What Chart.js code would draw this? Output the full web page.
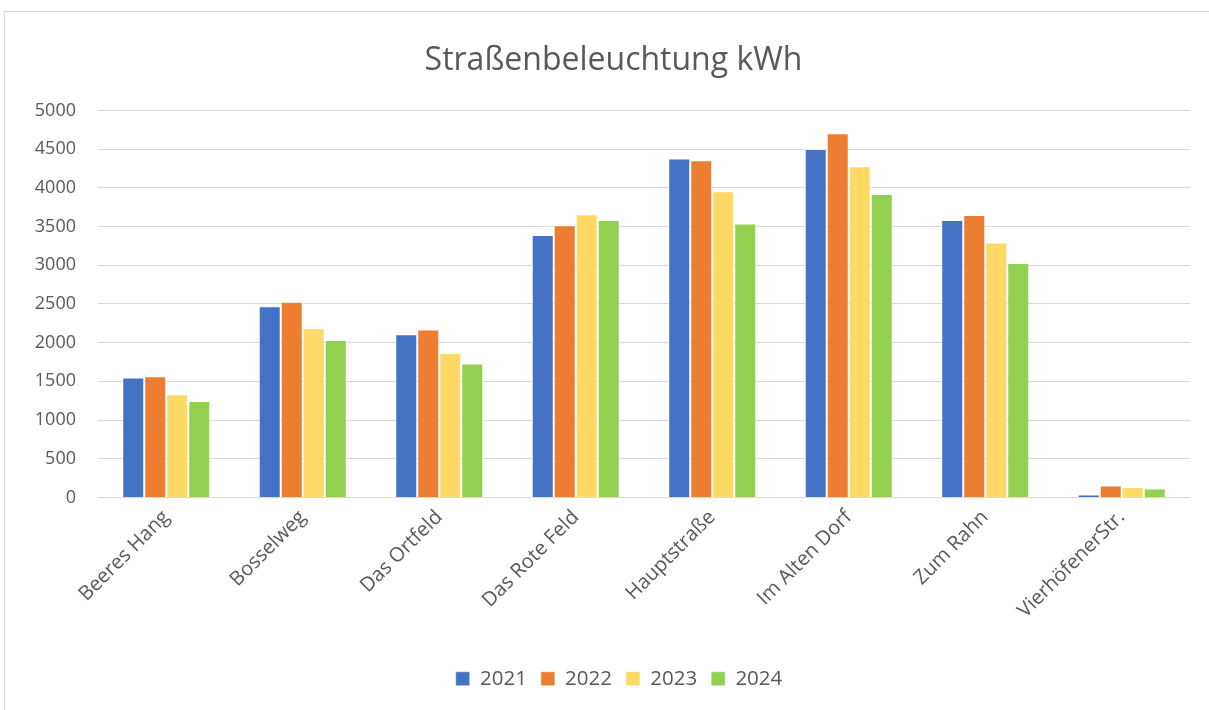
<!DOCTYPE html>
<html>
<head>
<meta charset="utf-8">
<script src="https://cdn.jsdelivr.net/npm/chart.js@4/dist/chart.umd.min.js"></script>
<style>
    html, body { margin: 0; padding: 0; background: #ffffff; overflow: hidden; }
    #frame {
        position: absolute; left: 4px; top: 11px; width: 1220px; height: 720px;
        border: 1px solid #d9d9d9; box-sizing: border-box;
    }
    #wrap { position: absolute; left: 0; top: 0; width: 1209px; height: 710px; }
</style>
</head>
<body>
<div id="frame"></div>
<div id="wrap"><canvas id="barChart" width="1209" height="710"></canvas></div>
<script>
const streets = ["Beeres Hang", "Bosselweg", "Das Ortfeld", "Das Rote Feld", "Hauptstraße", "Im Alten Dorf", "Zum Rahn", "VierhöfenerStr."];
const years = ["2021", "2022", "2023", "2024"];

const kwh2021 = [1550, 2470, 2110, 3390, 4380, 4500, 3585, 40];
const kwh2022 = [1565, 2530, 2170, 3515, 4355, 4705, 3650, 155];
const kwh2023 = [1335, 2185, 1865, 3660, 3955, 4280, 3295, 135];
const kwh2024 = [1245, 2035, 1730, 3585, 3540, 3920, 3030, 115];

const yTicks = [0, 500, 1000, 1500, 2000, 2500, 3000, 3500, 4000, 4500, 5000];

const colors = ["#4472c4", "#ed7d31", "#ffd966", "#92d050"];
const textColor = "#595959";
const fontFamily = "'Open Sans', 'Liberation Sans', sans-serif";

// Excel centres title and legend over the whole frame, not the padded box
const centreShift = {
    id: "centreShift",
    afterLayout(chart) {
        chart.titleBlock.left += 29;
        chart.legend.left += 40;
    },
};

// Function to create the grouped bar chart
function createBarChart() {
    const ctx = document.getElementById("barChart").getContext("2d");
    const series = [kwh2021, kwh2022, kwh2023, kwh2024];

    new Chart(ctx, {
        type: "bar",
        data: {
            labels: streets,
            datasets: series.map((values, i) => ({
                label: years[i],
                data: values,
                backgroundColor: colors[i],
                borderColor: "rgba(255,255,255,0.5)",
                borderWidth: 1,
                categoryPercentage: 0.645,
                barPercentage: 1.0,
            })),
        },
        plugins: [centreShift],
        options: {
            responsive: false,
            animation: false,
            layout: {
                padding: { left: 8, right: 19, top: 42, bottom: 11 },
            },
            plugins: {
                title: {
                    display: true,
                    text: "Straßenbeleuchtung kWh",
                    color: textColor,
                    font: { family: fontFamily, size: 32, weight: "normal" },
                    padding: { top: 0, bottom: 30 },
                },
                legend: {
                    position: "bottom",
                    labels: {
                        color: textColor,
                        font: { family: fontFamily, size: 20.5 },
                        boxWidth: 14,
                        boxHeight: 14,
                        padding: 14,
                    },
                },
                tooltip: { enabled: false },
            },
            scales: {
                x: {
                    grid: { display: false },
                    border: { display: false },
                    ticks: {
                        color: textColor,
                        font: { family: fontFamily, size: 20 },
                        minRotation: 45,
                        maxRotation: 45,
                        padding: 0,
                    },
                    afterFit: (scale) => { scale.height = 157; },
                },
                y: {
                    min: 0,
                    max: 5000,
                    afterBuildTicks: (scale) => { scale.ticks = yTicks.map((v) => ({ value: v })); },
                    grid: { color: "#d9d9d9", lineWidth: 1, drawTicks: false },
                    border: { display: false },
                    ticks: {
                        color: textColor,
                        font: { family: fontFamily, size: 18 },
                        padding: 22,
                        callback: (value) => String(value),
                    },
                    afterFit: (scale) => { scale.width = 90; },
                },
            },
        },
    });
}

createBarChart();
</script>
</body>
</html>
